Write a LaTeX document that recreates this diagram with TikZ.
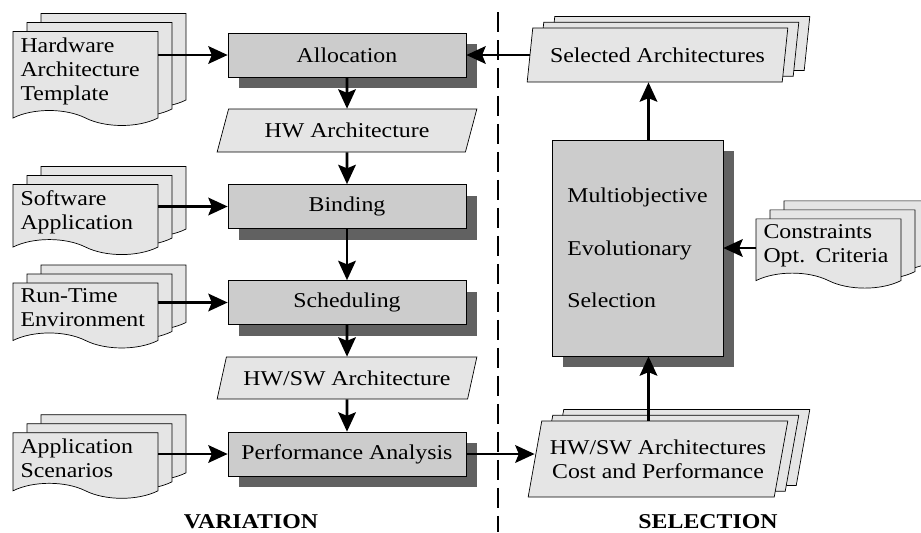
\documentclass[tikz,border=0pt]{standalone}
\usepackage{fontspec}
\setmainfont{Liberation Serif}[FakeStretch=1.13]
\usetikzlibrary{positioning,arrows.meta,shapes.geometric,shapes.symbols,shadows}
\definecolor{paperfill}{gray}{0.90}
\definecolor{boxfill}{gray}{0.80}
\definecolor{shadefill}{gray}{0.38}

\begin{document}
\begin{tikzpicture}[
    x=0.02cm, y=-0.02cm,
    every node/.style={font=\fontsize{12}{13.7}\selectfont},
    procblock/.style={draw, fill=boxfill, minimum width=4.76cm, minimum height=0.88cm, inner sep=0pt,
      general shadow={shadow xshift=0.22cm, shadow yshift=-0.22cm, fill=shadefill}},
    datablock/.style={trapezium, trapezium stretches=true, trapezium left angle=62,
      trapezium right angle=118, draw, fill=paperfill, minimum width=5.2cm, inner sep=0pt},
    datastack/.style={datablock, trapezium left angle=72, trapezium right angle=108, align=center,
      general shadow={shadow xshift=0.44cm, shadow yshift=0.23cm, draw, fill=paperfill},
      general shadow={shadow xshift=0.22cm, shadow yshift=0.115cm, draw, fill=paperfill}},
    docstack/.style={tape, tape bend top=none, tape bend bottom=out and in, tape bend height=0.3cm,
      draw, fill=paperfill, minimum width=2.9cm, text width=2.6cm, inner xsep=0.15cm, align=left,
      general shadow={shadow xshift=0.56cm, shadow yshift=0.36cm, draw, fill=paperfill},
      general shadow={shadow xshift=0.28cm, shadow yshift=0.18cm, draw, fill=paperfill}},
    arr/.style={-{Stealth[length=11pt, width=10pt, inset=2pt]}, line width=1.6pt},
    divline/.style={line width=1.7pt, dash pattern=on 0.4cm off 0.16cm},
    sidelbl/.style={font=\fontsize{12}{13.7}\selectfont\bfseries},
  ]
  \useasboundingbox (0,0) rectangle (921,532);

  % Variation side
  \node[docstack, minimum height=1.88cm] (hwdoc) at (85.5,71) {Hardware\\Architecture\\Template};
  \node[docstack, minimum height=1.24cm] (swdoc) at (85.5,212) {Software\\Application};
  \node[docstack, minimum height=1.28cm] (rtdoc) at (85.5,308) {Run-Time\\Environment};
  \node[docstack, minimum height=1.28cm] (asdoc) at (85.5,458) {Application\\Scenarios};

  \node[procblock] (alloc) at (347,55) {Allocation};
  \node[datablock, minimum height=0.86cm] (hwarch) at (347,130.5) {HW Architecture};
  \node[procblock] (bind) at (347,206.5) {Binding};
  \node[procblock] (sched) at (347,302.5) {Scheduling};
  \node[datablock, minimum height=0.84cm] (hwswarch) at (347,378) {HW/SW Architecture};
  \node[procblock] (perf) at (347,454) {Performance Analysis};

  % Selection side
  \node[datastack, minimum width=5.22cm, minimum height=1.08cm] (sel) at (657.5,55) {Selected Architectures};
  \node[procblock, minimum width=3.42cm, minimum height=4.32cm, align=left,
    font=\fontsize{12}{30}\selectfont] (multi) at (637.5,248) {Multiobjective\\Evolutionary\\Selection};
  \node[docstack, minimum height=1.34cm] (cons) at (828.5,246) {Constraints\\Opt. Criteria};
  \node[datastack, minimum height=1.52cm] (hwsw) at (658,459) {HW/SW Architectures\\Cost and Performance};

  % Connectors
  \draw[arr] (alloc.west -| hwdoc.east) -- (alloc.west);
  \draw[arr] (bind.west -| swdoc.east) -- (bind.west);
  \draw[arr] (sched.west -| rtdoc.east) -- (sched.west);
  \draw[arr] (perf.west -| asdoc.east) -- (perf.west);
  \draw[arr] (alloc.south) -- (hwarch.north);
  \draw[arr] (hwarch.south) -- (bind.north);
  \draw[arr] (bind.south) -- (sched.north);
  \draw[arr] (sched.south) -- (hwswarch.north);
  \draw[arr] (hwswarch.south) -- (perf.north);
  \draw[arr] (perf.east) -- (perf.east -| hwsw.west);
  \draw[arr] ([xshift=0.22cm]multi.south |- hwsw.north) -- ([xshift=0.22cm]multi.south);
  \draw[arr] ([xshift=0.22cm]multi.north) -- ([xshift=0.22cm]multi.north |- sel.south);
  \draw[arr] (sel.west) -- (sel.west -| alloc.east);
  \draw[arr] (multi.east -| cons.west) -- (multi.east);

  % Divider and labels
  \coordinate (divtop) at (498,12);
  \coordinate (divbot) at (498,532);
  \draw[divline] (divtop) -- (divbot);
  \node[sidelbl] (varlbl) at (251,522) {VARIATION};
  \node[sidelbl] (sellbl) at (708,522) {SELECTION};
\end{tikzpicture}
\end{document}
